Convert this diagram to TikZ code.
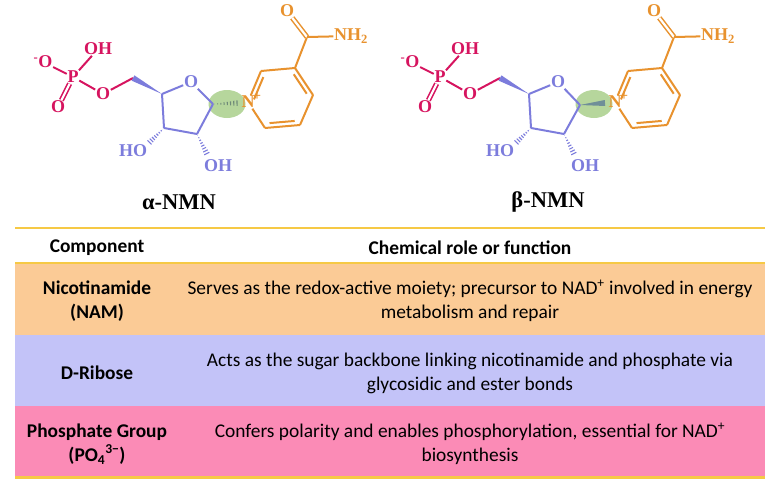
\documentclass[tikz,border=0pt]{standalone}
\usepackage{fontspec}
\setmainfont{Carlito}
\newfontfamily\molfont{Liberation Serif}
\usetikzlibrary{calc,shapes.geometric}
\definecolor{phos}{HTML}{D6145F}
\definecolor{ribo}{HTML}{7C7CDC}
\definecolor{nico}{HTML}{E8922E}
\definecolor{hashc}{HTML}{6F8A78}
\definecolor{wedgec}{HTML}{6F8F98}
\definecolor{rowa}{HTML}{FBCB96}
\definecolor{rowb}{HTML}{C3C3F8}
\definecolor{rowc}{HTML}{FB8BB6}
\definecolor{rulec}{HTML}{F6C945}
\definecolor{spot}{HTML}{B6D69C}
\tikzstyle{atom}=[inner sep=0.6pt,font=\molfont\bfseries\fontsize{18}{18}\selectfont]
\tikzstyle{molname}=[inner sep=0pt,font=\molfont\bfseries\fontsize{22.5}{22.5}\selectfont]
\tikzstyle{phbond}=[phos,line width=2pt]
\tikzstyle{ribond}=[ribo,line width=2pt]
\tikzstyle{nibond}=[nico,line width=2pt]
\tikzstyle{dbl}=[double=white,double distance=2.2pt,line width=1.5pt]
\tikzstyle{spotmark}=[ellipse,fill=spot,inner sep=0pt,minimum width=37pt,minimum height=28pt]
\tikzstyle{tblrule}=[rulec,line width=2.2pt]
\tikzstyle{headcell}=[inner sep=0pt,font=\bfseries\fontsize{19.4}{24}\selectfont]
\tikzstyle{namecell}=[inner sep=0pt,align=center,font=\bfseries\fontsize{19.4}{24}\selectfont]
\tikzstyle{rolecell}=[inner sep=0pt,align=center,font=\fontsize{19.4}{24}\selectfont]
% #1 half width, #2 colour, #3 narrow end, #4 wide end
\newcommand{\hashbond}[4][3.2pt]{
  \foreach \t in {0.05,0.17,...,1}
    \draw [#2,line width=1.1pt]
      ($(#3)!\t!(#4)$) -- ($($(#3)!\t!(#4)$)!\t*#1!90:(#4)$)
      ($(#3)!\t!(#4)$) -- ($($(#3)!\t!(#4)$)!\t*#1!-90:(#4)$);
}
\newcommand{\wedgebond}[4][3pt]{
  \fill [#2] (#3) -- ($(#4)!#1!90:(#3)$) -- ($(#4)!#1!-90:(#3)$) -- cycle;
}
% ring double bond, second line on one side
\newcommand{\innerbond}[3]{
  \draw [nibond] ($($(#1)!0.14!(#2)$)!#3!90:(#2)$) -- ($($(#1)!0.86!(#2)$)!#3!90:(#2)$);
}

\begin{document}
\begin{tikzpicture}[x=1pt,y=-1pt]
  \useasboundingbox (0,0) rectangle (775,487);

  % alpha
  \node (a-spot) at (227,104) [spotmark] {};

  \node (a-om) at (43,62) [atom,text=phos] {\textsuperscript{-}O};
  \node (a-p) at (73,77) [atom,text=phos] {P};
  \node (a-oh) at (98,49) [atom,text=phos] {OH};
  \node (a-od) at (58,107) [atom,text=phos] {O};
  \node (a-oe) at (103,94) [atom,text=phos] {O};
  \coordinate (a-c5) at (133,78);
  \coordinate (a-c4) at (162,94);
  \node (a-o4) at (191,82) [atom,text=ribo] {O};
  \coordinate (a-c1) at (213,104);
  \coordinate (a-c2) at (197,134);
  \coordinate (a-c3) at (164,128);
  \node (a-ho) at (133,151) [atom,text=ribo] {HO};
  \node (a-ohb) at (218,166) [atom,text=ribo] {OH};
  \coordinate (a-hx) at (208,156);
  \coordinate (a-hn) at (240,103);
  \node (a-n) at (248,102) [atom,text=nico] {N};
  \node (a-plus) at (257,97) [inner sep=0pt,text=nico,font=\molfont\bfseries\fontsize{14}{14}\selectfont] {+};
  \coordinate (a-r2) at (261,71);
  \coordinate (a-r3) at (295,68);
  \coordinate (a-r4) at (313,95);
  \coordinate (a-r5) at (300,125);
  \coordinate (a-r6) at (265,128);
  \coordinate (a-cc) at (307,37);
  \node (a-oc) at (287,11) [atom,text=nico] {O};
  \node (a-nh) at (351,36) [atom,text=nico] {NH\textsubscript{2}};

  \draw [phbond] (a-om) -- (a-p);
  \draw [phbond] (a-p) -- (a-oh);
  \draw [phbond,dbl] (a-p) -- (a-od);
  \draw [phbond] (a-p) -- (a-oe);
  \draw [phbond] (a-oe) -- (a-c5);
  \wedgebond{ribo}{a-c4}{a-c5}
  \draw [ribond] (a-c4) -- (a-o4);
  \draw [ribond] (a-o4) -- (a-c1);
  \draw [ribond] (a-c1) -- (a-c2);
  \draw [ribond] (a-c2) -- (a-c3);
  \draw [ribond] (a-c3) -- (a-c4);
  \hashbond{ribo}{a-c3}{a-ho.north east}
  \hashbond{ribo}{a-c2}{a-hx}
  \hashbond{hashc}{a-c1}{a-hn}
  \draw [nibond] (a-n) -- (a-r2);
  \draw [nibond] (a-r2) -- (a-r3);
  \draw [nibond] (a-r3) -- (a-r4);
  \draw [nibond] (a-r4) -- (a-r5);
  \draw [nibond] (a-r5) -- (a-r6);
  \draw [nibond] (a-r6) -- (a-n);
  \innerbond{a-n}{a-r2}{-4.5pt}
  \innerbond{a-r3}{a-r4}{-4.5pt}
  \innerbond{a-r5}{a-r6}{-4.5pt}
  \draw [nibond] (a-r3) -- (a-cc);
  \draw [nibond,dbl] (a-cc) -- (a-oc);
  \draw [nibond] (a-cc) -- (a-nh);

  \node (a-title) at (179,202) [molname] {α-NMN};

  % beta
  \node (b-spot) at (594,104) [spotmark] {};

  \node (b-om) at (410,62) [atom,text=phos] {\textsuperscript{-}O};
  \node (b-p) at (440,77) [atom,text=phos] {P};
  \node (b-oh) at (465,49) [atom,text=phos] {OH};
  \node (b-od) at (425,107) [atom,text=phos] {O};
  \node (b-oe) at (470,94) [atom,text=phos] {O};
  \coordinate (b-c5) at (500,78);
  \coordinate (b-c4) at (529,94);
  \node (b-o4) at (558,82) [atom,text=ribo] {O};
  \coordinate (b-c1) at (580,105);
  \coordinate (b-c2) at (564,134);
  \coordinate (b-c3) at (531,128);
  \node (b-ho) at (500,151) [atom,text=ribo] {HO};
  \node (b-ohb) at (585,166) [atom,text=ribo] {OH};
  \coordinate (b-hx) at (575,156);
  \coordinate (b-hn) at (605,103);
  \node (b-n) at (615,102) [atom,text=nico] {N};
  \node (b-plus) at (624,97) [inner sep=0pt,text=nico,font=\molfont\bfseries\fontsize{14}{14}\selectfont] {+};
  \coordinate (b-r2) at (628,71);
  \coordinate (b-r3) at (662,68);
  \coordinate (b-r4) at (680,95);
  \coordinate (b-r5) at (667,125);
  \coordinate (b-r6) at (632,128);
  \coordinate (b-cc) at (674,37);
  \node (b-oc) at (654,11) [atom,text=nico] {O};
  \node (b-nh) at (718,36) [atom,text=nico] {NH\textsubscript{2}};

  \draw [phbond] (b-om) -- (b-p);
  \draw [phbond] (b-p) -- (b-oh);
  \draw [phbond,dbl] (b-p) -- (b-od);
  \draw [phbond] (b-p) -- (b-oe);
  \draw [phbond] (b-oe) -- (b-c5);
  \wedgebond{ribo}{b-c4}{b-c5}
  \draw [ribond] (b-c4) -- (b-o4);
  \draw [ribond] (b-o4) -- (b-c1);
  \draw [ribond] (b-c1) -- (b-c2);
  \draw [ribond] (b-c2) -- (b-c3);
  \draw [ribond] (b-c3) -- (b-c4);
  \hashbond{ribo}{b-c3}{b-ho.north east}
  \hashbond{ribo}{b-c2}{b-hx}
  \wedgebond{wedgec}{b-c1}{b-hn}
  \draw [nibond] (b-n) -- (b-r2);
  \draw [nibond] (b-r2) -- (b-r3);
  \draw [nibond] (b-r3) -- (b-r4);
  \draw [nibond] (b-r4) -- (b-r5);
  \draw [nibond] (b-r5) -- (b-r6);
  \draw [nibond] (b-r6) -- (b-n);
  \innerbond{b-n}{b-r2}{-4.5pt}
  \innerbond{b-r3}{b-r4}{-4.5pt}
  \innerbond{b-r5}{b-r6}{-4.5pt}
  \draw [nibond] (b-r3) -- (b-cc);
  \draw [nibond,dbl] (b-cc) -- (b-oc);
  \draw [nibond] (b-cc) -- (b-nh);

  \node (b-title) at (548,202) [molname] {β-NMN};

  % table
  \fill [rowa] (15,264) rectangle (765,335);
  \fill [rowb] (15,335) rectangle (765,406);
  \fill [rowc] (15,406) rectangle (765,477);
  \draw [tblrule] (15,228) -- (765,228);
  \draw [tblrule] (15,263) -- (765,263);
  \draw [tblrule] (15,477.5) -- (765,477.5);

  \node (h1) at (97,248) [headcell] {Component};
  \node (h2) at (470,248) [headcell] {Chemical role or function};

  \node (n1) at (97,301) [namecell] {Nicotinamide\\(NAM)};
  \node (r1) at (470,301) [rolecell] {Serves as the redox-active moiety; precursor to NAD\textsuperscript{+} involved in energy\\metabolism and repair};
  \node (n2) at (97,373) [namecell] {D-Ribose};
  \node (r2) at (470,373) [rolecell] {Acts as the sugar backbone linking nicotinamide and phosphate via\\glycosidic and ester bonds};
  \node (n3) at (97,444) [namecell] {Phosphate Group\\(PO\textsubscript{4}\textsuperscript{3−})};
  \node (r3) at (470,444) [rolecell] {Confers polarity and enables phosphorylation, essential for NAD\textsuperscript{+}\\biosynthesis};
\end{tikzpicture}
\end{document}
